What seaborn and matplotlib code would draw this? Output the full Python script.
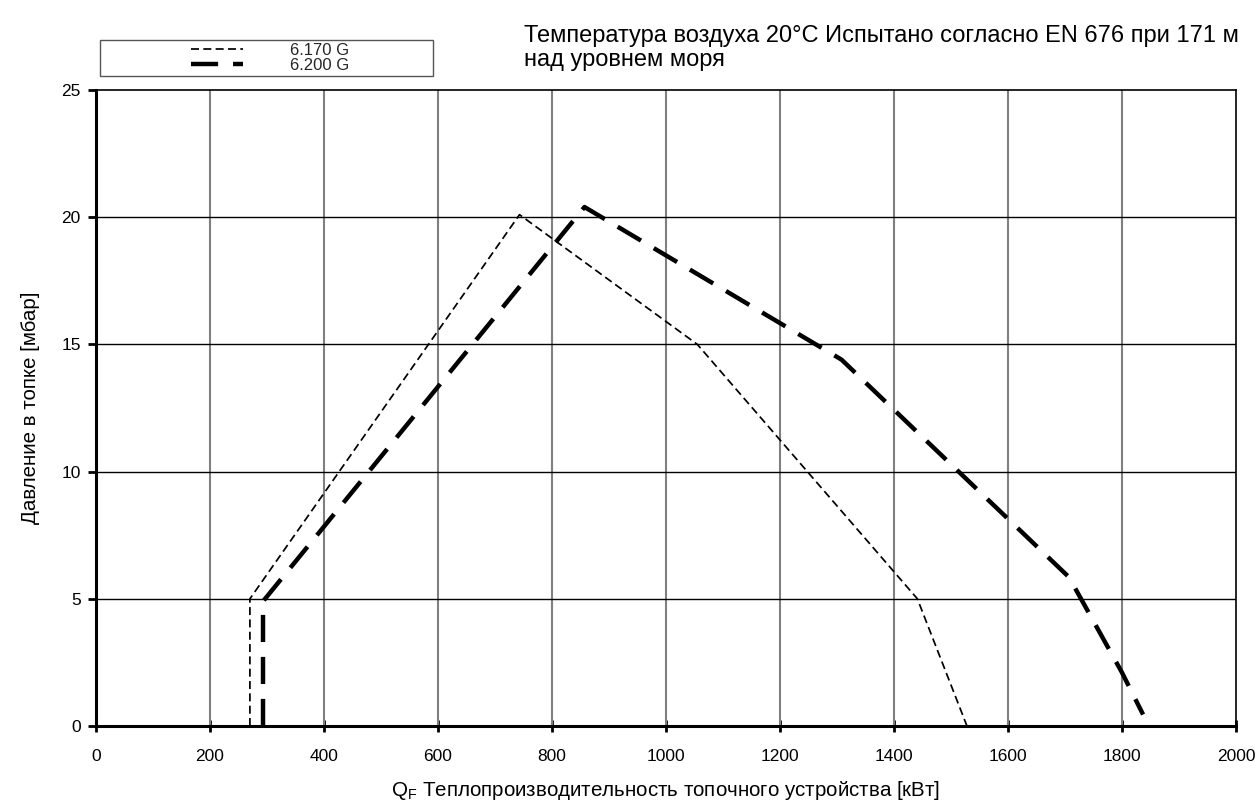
import matplotlib
matplotlib.use("Agg")
import matplotlib.pyplot as plt
from matplotlib.patches import Rectangle
import seaborn as sns
import pandas as pd

# Data
series_names = ["6.170 G", "6.200 G"]
x_6170 = [270, 270, 743, 1055, 1441, 1528]
y_6170 = [0.0, 5.0, 20.1, 15.0, 5.0, 0.0]
x_6200 = [293, 293, 857, 1308, 1707, 1800, 1837]
y_6200 = [0.0, 4.9, 20.4, 14.4, 5.85, 2.1, 0.45]
x_ticks = [0, 200, 400, 600, 800, 1000, 1200, 1400, 1600, 1800, 2000]
y_ticks = [0, 5, 10, 15, 20, 25]

title_text = "Температура воздуха 20°C Испытано согласно EN 676 при 171 м\nнад уровнем моря"
xlabel_text = r"Q$_\mathrm{F}$ Теплопроизводительность топочного устройства [кВт]"
ylabel_text = "Давление в топке [мбар]"

sns.set_theme(style="white")
plt.rcParams["font.family"] = ["Liberation Sans", "DejaVu Sans"]
plt.rcParams["mathtext.fontset"] = "custom"
plt.rcParams["mathtext.rm"] = "Liberation Sans"
plt.rcParams["mathtext.it"] = "Liberation Sans:italic"

W, H = 1259, 808
fig = plt.figure(figsize=(W / 100, H / 100), dpi=100)
ax = fig.add_axes([96 / W, 1 - 726 / H, (1236 - 96) / W, (726 - 90) / H])

df1 = pd.DataFrame({"x": x_6170, "y": y_6170})
df2 = pd.DataFrame({"x": x_6200, "y": y_6200})

sns.lineplot(data=df1, x="x", y="y", sort=False, estimator=None, ax=ax,
             color="black", linewidth=1.25, label=series_names[0], zorder=5)
sns.lineplot(data=df2, x="x", y="y", sort=False, estimator=None, ax=ax,
             color="black", linewidth=3.2, label=series_names[1], zorder=5)
lines = ax.get_lines()
lines[0].set_dashes([4.6, 2.5])
lines[1].set_dashes([6.1, 3.35])

ax.set_xlim(0, 2000)
ax.set_ylim(0, 25)
ax.set_xticks(x_ticks)
ax.set_yticks(y_ticks)
ax.set_xticklabels([str(v) for v in x_ticks], fontsize=12.5)
ax.set_yticklabels([str(v) for v in y_ticks], fontsize=12.5)

# grid: vertical gray, horizontal black
for xv in x_ticks[1:-1]:
    ax.axvline(xv, color="#808080", linewidth=1.5, zorder=1)
for yv in y_ticks[1:-1]:
    ax.axhline(yv, color="black", linewidth=1.0, zorder=1)

for side in ["left", "bottom"]:
    ax.spines[side].set_linewidth(2.2)
    ax.spines[side].set_color("black")
for side in ["top", "right"]:
    ax.spines[side].set_linewidth(1.2)
    ax.spines[side].set_color("black")
    ax.spines[side].set_visible(True)

ax.tick_params(axis="x", direction="inout", length=9, width=2, colors="black",
               labelcolor="black", pad=12, bottom=True)
ax.tick_params(axis="y", direction="out", length=6, width=2, colors="black",
               labelcolor="black", pad=5, left=True)

ax.set_xlabel(xlabel_text, fontsize=14.8, labelpad=11, color="black")
ax.set_ylabel(ylabel_text, fontsize=14.8, labelpad=15, color="black")

fig.text(524 / W, 1 - 25 / H, title_text, fontsize=17, va="top", ha="left",
         linespacing=1.12, color="black")

# legend box
fig.patches.append(Rectangle((100 / W, 1 - 76 / H), 333 / W, 36 / H,
                             transform=fig.transFigure, fill=False,
                             edgecolor="#555555", linewidth=1.0))
leg = ax.legend(loc="center",
                bbox_to_anchor=(270 / W, 1 - 58 / H),
                bbox_transform=fig.transFigure,
                frameon=False, fontsize=12, handlelength=3.1,
                handletextpad=2.8, borderpad=0.0, labelspacing=0.0,
                borderaxespad=0)

fig.savefig("out.png", dpi=100, facecolor="white")
